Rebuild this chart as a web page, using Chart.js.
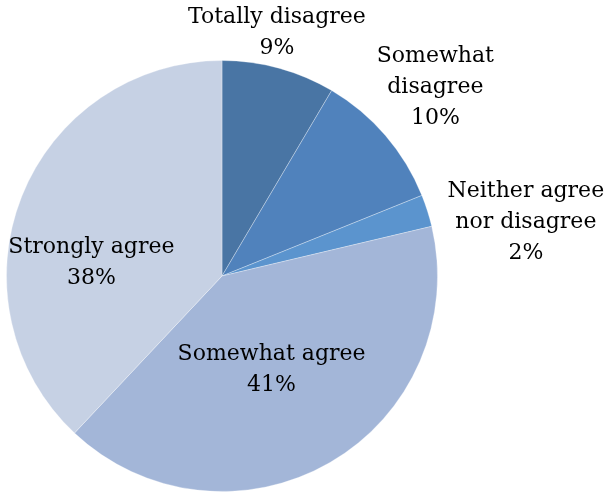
<!DOCTYPE html>
<html>
<head>
<meta charset="utf-8">
<script src="https://cdn.jsdelivr.net/npm/chart.js@4/dist/chart.umd.min.js"></script>
<style>
  html, body { margin: 0; padding: 0; background: #fff; }
  #wrap { width: 605px; height: 493px; }
</style>
</head>
<body>
<div id="wrap"><canvas id="pie-chart"></canvas></div>
<script>
// Categories (multi-line like the original labels)
var categories = [
    ["Totally disagree"],
    ["Somewhat", "disagree"],
    ["Neither agree", "nor disagree"],
    ["Somewhat agree"],
    ["Strongly agree"]
];
// Shares in percent
var shares = [8.5, 10.4, 2.4, 40.7, 38.0];

var sliceColors = ["#4975a4", "#5082bc", "#5b94ce", "#a3b6d8", "#c6d1e4"];

// where each label block sits, relative to the pie centre, in radius units
var labelOffsets = [
    [0.255, -1.13],
    [0.99, -0.875],
    [1.41, -0.25],
    [0.23, 0.435],
    [-0.606, -0.06]
];

// Draw "name / nn%" labels
var pieLabels = {
    id: "pieLabels",
    afterDraw: function(chart) {
        var ctx = chart.ctx;
        var meta = chart.getDatasetMeta(0);
        var data = chart.data.datasets[0].data;
        var lineH = 31;
        ctx.save();
        ctx.font = "22px 'DejaVu Serif'";
        ctx.fillStyle = "#000";
        ctx.textAlign = "center";
        ctx.textBaseline = "middle";
        meta.data.forEach(function(arc, i) {
            var r = arc.outerRadius;
            var cx = arc.x + labelOffsets[i][0] * r;
            var cy = arc.y + labelOffsets[i][1] * r;
            var lines = chart.data.labels[i].concat([Math.round(data[i]) + "%"]);
            var top = cy - (lines.length - 1) * lineH / 2;
            for (var k = 0; k < lines.length; k++) {
                ctx.fillText(lines[k], cx, top + k * lineH);
            }
        });
        ctx.restore();
    }
};

var ctx = document.getElementById("pie-chart");

var chartData = {
    labels: categories,
    datasets: [{
        data: shares,
        backgroundColor: sliceColors,
        borderColor: "rgba(255,255,255,0.3)",
        borderWidth: 1
    }]
};

var config = {
    type: "pie",
    data: chartData,
    options: {
        responsive: true,
        maintainAspectRatio: false,
        animation: false,
        layout: { padding: { left: 6, right: 167, top: 60, bottom: 1 } },
        plugins: {
            legend: { display: false },
            tooltip: { enabled: false }
        }
    },
    plugins: [pieLabels]
};

var pieChart = new Chart(ctx, config);
</script>
</body>
</html>
